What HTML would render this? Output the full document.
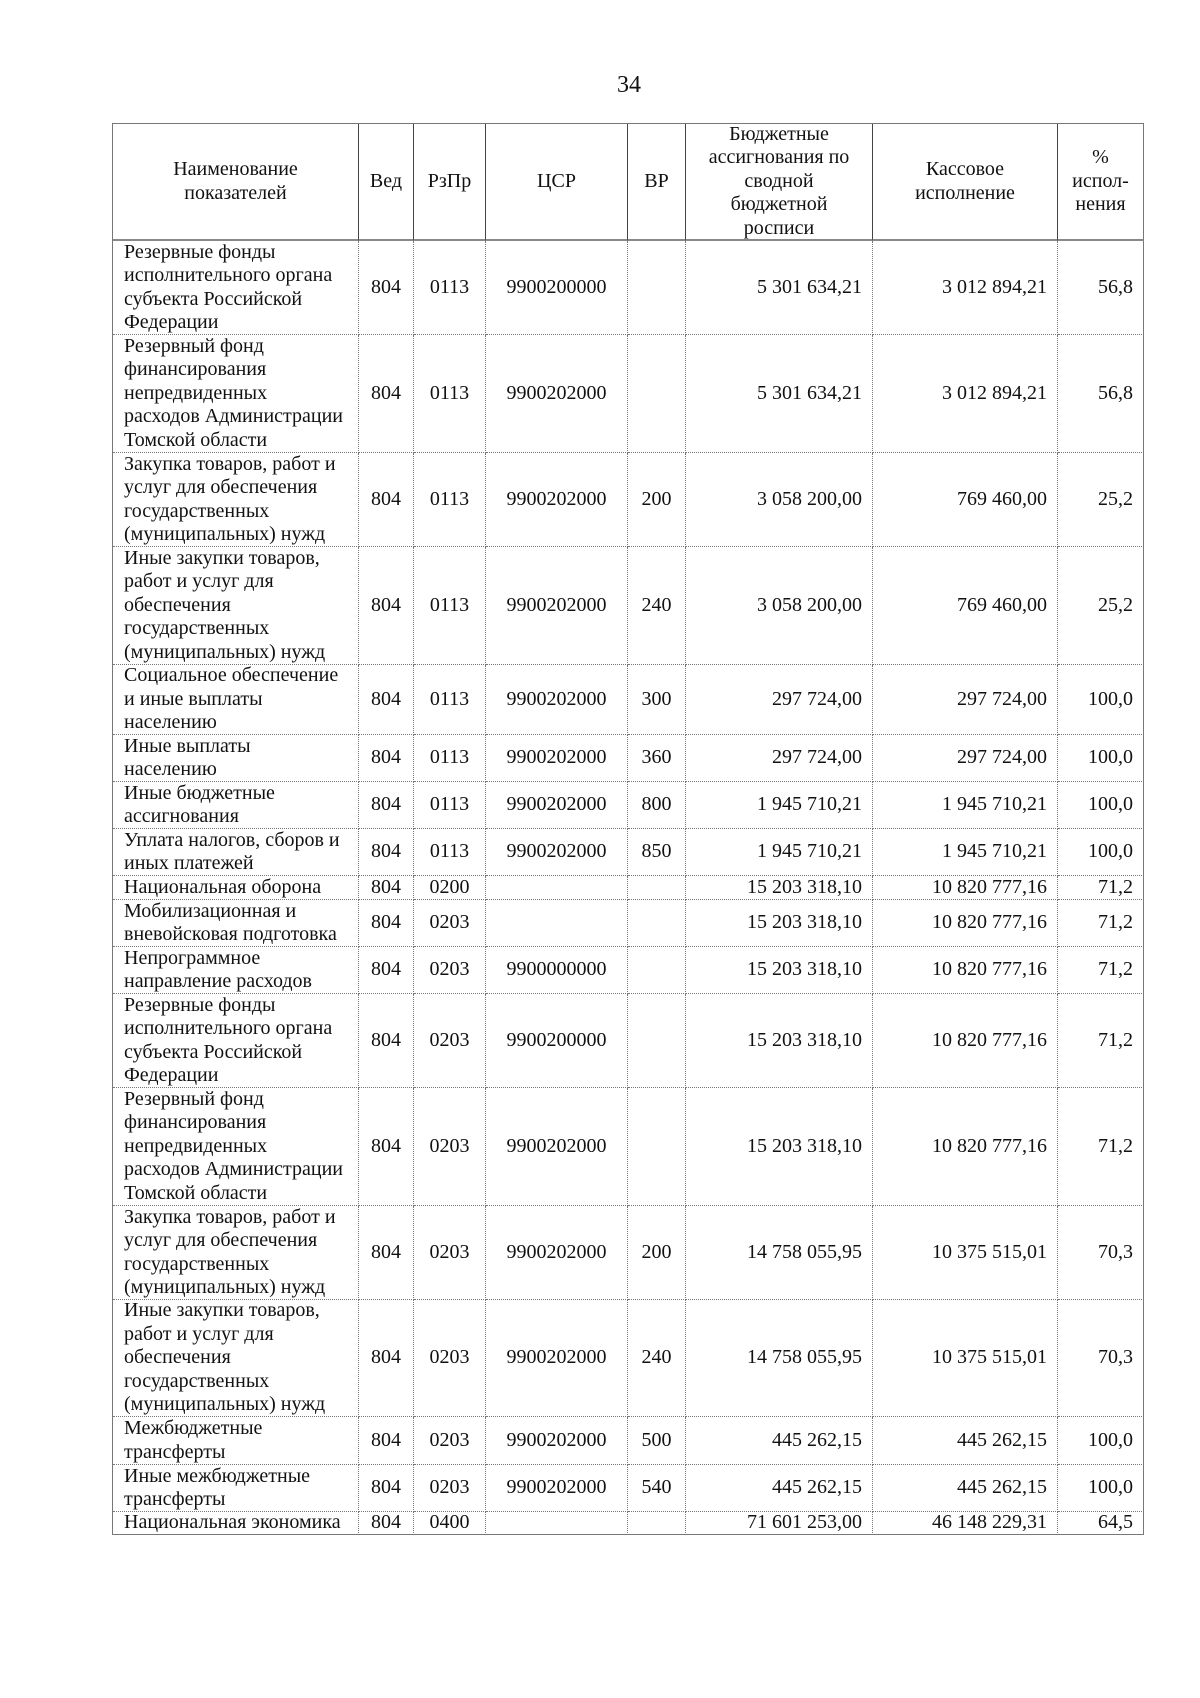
<!DOCTYPE html>
<html>
<head>
<meta charset="utf-8">
<style>
  html, body { margin:0; padding:0; background:#fff; }
  body { width:1200px; height:1698px; position:relative; overflow:hidden;
         font-family:"Liberation Serif", "Noto Serif CJK SC", serif; color:#111; }
  .pnum { position:absolute; left:597px; width:64px; top:70px; text-align:center; font-size:24px; line-height:30px; }
  .grid { position:absolute; left:112px; top:123px;
          display:grid;
          grid-template-columns: 246px 55px 72px 142px 58px 187px 185px 86px;
          grid-template-rows: 117px 94px 118px 94px 118px 70px 47px 47px 47px 24px 47px 47px 94px 118px 94px 117px 48px 47px 23px;
          border-left:1.5px solid #777; border-top:1.5px solid #777;
          font-size:20px; line-height:23.5px; }
  .grid > div { box-sizing:border-box; border-right:1px dotted #777; border-bottom:1px dotted #777;
                display:flex; align-items:center; white-space:nowrap; overflow:visible; }
  .grid > div.h { border-right:1px solid #444; border-bottom:2px solid #888; justify-content:center; text-align:center; }
  .grid > div.l { padding-left:11px; }
  .grid > div.c { justify-content:center; }
  .grid > div.r { justify-content:flex-end; padding-right:10px; }
  .grid > div.last { border-right:1.5px solid #777; }
  .grid > div.bot { border-bottom:1.5px solid #777; }
</style>
</head>
<body>
<div class="pnum">34</div>
<div class="grid">
  <div class="h">Наименование<br>показателей</div>
  <div class="h">Вед</div>
  <div class="h">РзПр</div>
  <div class="h">ЦСР</div>
  <div class="h">ВР</div>
  <div class="h">Бюджетные<br>ассигнования по<br>сводной<br>бюджетной<br>росписи</div>
  <div class="h">Кассовое<br>исполнение</div>
  <div class="h last">%<br>испол-<br>нения</div>

  <div class="l">Резервные фонды<br>исполнительного органа<br>субъекта Российской<br>Федерации</div>
  <div class="c">804</div><div class="c">0113</div><div class="c">9900200000</div><div class="c"></div>
  <div class="r">5 301 634,21</div><div class="r">3 012 894,21</div><div class="r last">56,8</div>

  <div class="l">Резервный фонд<br>финансирования<br>непредвиденных<br>расходов Администрации<br>Томской области</div>
  <div class="c">804</div><div class="c">0113</div><div class="c">9900202000</div><div class="c"></div>
  <div class="r">5 301 634,21</div><div class="r">3 012 894,21</div><div class="r last">56,8</div>

  <div class="l">Закупка товаров, работ и<br>услуг для обеспечения<br>государственных<br>(муниципальных) нужд</div>
  <div class="c">804</div><div class="c">0113</div><div class="c">9900202000</div><div class="c">200</div>
  <div class="r">3 058 200,00</div><div class="r">769 460,00</div><div class="r last">25,2</div>

  <div class="l">Иные закупки товаров,<br>работ и услуг для<br>обеспечения<br>государственных<br>(муниципальных) нужд</div>
  <div class="c">804</div><div class="c">0113</div><div class="c">9900202000</div><div class="c">240</div>
  <div class="r">3 058 200,00</div><div class="r">769 460,00</div><div class="r last">25,2</div>

  <div class="l">Социальное обеспечение<br>и иные выплаты<br>населению</div>
  <div class="c">804</div><div class="c">0113</div><div class="c">9900202000</div><div class="c">300</div>
  <div class="r">297 724,00</div><div class="r">297 724,00</div><div class="r last">100,0</div>

  <div class="l">Иные выплаты<br>населению</div>
  <div class="c">804</div><div class="c">0113</div><div class="c">9900202000</div><div class="c">360</div>
  <div class="r">297 724,00</div><div class="r">297 724,00</div><div class="r last">100,0</div>

  <div class="l">Иные бюджетные<br>ассигнования</div>
  <div class="c">804</div><div class="c">0113</div><div class="c">9900202000</div><div class="c">800</div>
  <div class="r">1 945 710,21</div><div class="r">1 945 710,21</div><div class="r last">100,0</div>

  <div class="l">Уплата налогов, сборов и<br>иных платежей</div>
  <div class="c">804</div><div class="c">0113</div><div class="c">9900202000</div><div class="c">850</div>
  <div class="r">1 945 710,21</div><div class="r">1 945 710,21</div><div class="r last">100,0</div>

  <div class="l">Национальная оборона</div>
  <div class="c">804</div><div class="c">0200</div><div class="c"></div><div class="c"></div>
  <div class="r">15 203 318,10</div><div class="r">10 820 777,16</div><div class="r last">71,2</div>

  <div class="l">Мобилизационная и<br>вневойсковая подготовка</div>
  <div class="c">804</div><div class="c">0203</div><div class="c"></div><div class="c"></div>
  <div class="r">15 203 318,10</div><div class="r">10 820 777,16</div><div class="r last">71,2</div>

  <div class="l">Непрограммное<br>направление расходов</div>
  <div class="c">804</div><div class="c">0203</div><div class="c">9900000000</div><div class="c"></div>
  <div class="r">15 203 318,10</div><div class="r">10 820 777,16</div><div class="r last">71,2</div>

  <div class="l">Резервные фонды<br>исполнительного органа<br>субъекта Российской<br>Федерации</div>
  <div class="c">804</div><div class="c">0203</div><div class="c">9900200000</div><div class="c"></div>
  <div class="r">15 203 318,10</div><div class="r">10 820 777,16</div><div class="r last">71,2</div>

  <div class="l">Резервный фонд<br>финансирования<br>непредвиденных<br>расходов Администрации<br>Томской области</div>
  <div class="c">804</div><div class="c">0203</div><div class="c">9900202000</div><div class="c"></div>
  <div class="r">15 203 318,10</div><div class="r">10 820 777,16</div><div class="r last">71,2</div>

  <div class="l">Закупка товаров, работ и<br>услуг для обеспечения<br>государственных<br>(муниципальных) нужд</div>
  <div class="c">804</div><div class="c">0203</div><div class="c">9900202000</div><div class="c">200</div>
  <div class="r">14 758 055,95</div><div class="r">10 375 515,01</div><div class="r last">70,3</div>

  <div class="l">Иные закупки товаров,<br>работ и услуг для<br>обеспечения<br>государственных<br>(муниципальных) нужд</div>
  <div class="c">804</div><div class="c">0203</div><div class="c">9900202000</div><div class="c">240</div>
  <div class="r">14 758 055,95</div><div class="r">10 375 515,01</div><div class="r last">70,3</div>

  <div class="l">Межбюджетные<br>трансферты</div>
  <div class="c">804</div><div class="c">0203</div><div class="c">9900202000</div><div class="c">500</div>
  <div class="r">445 262,15</div><div class="r">445 262,15</div><div class="r last">100,0</div>

  <div class="l">Иные межбюджетные<br>трансферты</div>
  <div class="c">804</div><div class="c">0203</div><div class="c">9900202000</div><div class="c">540</div>
  <div class="r">445 262,15</div><div class="r">445 262,15</div><div class="r last">100,0</div>

  <div class="l bot">Национальная экономика</div>
  <div class="c bot">804</div><div class="c bot">0400</div><div class="c bot"></div><div class="c bot"></div>
  <div class="r bot">71 601 253,00</div><div class="r bot">46 148 229,31</div><div class="r last bot">64,5</div>
</div>
</body>
</html>
